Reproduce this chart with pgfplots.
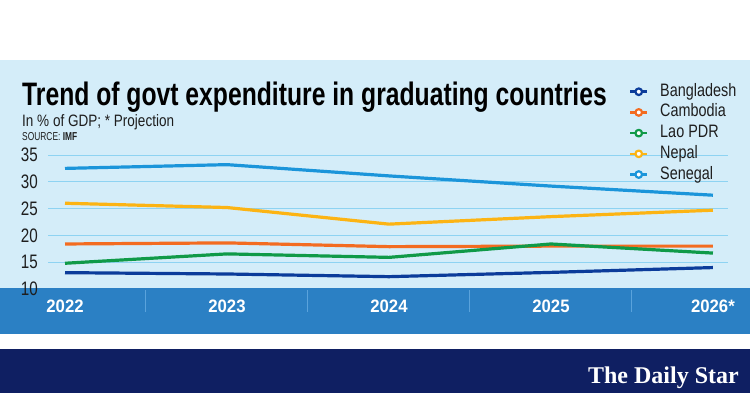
\documentclass[border=0pt]{standalone}
\usepackage{fontspec}
\setmainfont{Liberation Sans}
\newfontfamily\titlefont[FakeStretch=0.76]{Liberation Sans}
\newfontfamily\condfont[FakeStretch=0.82]{Liberation Sans}
\newfontfamily\legfont[FakeStretch=0.8]{Liberation Sans}
\newfontfamily\srcfont[FakeStretch=0.73]{Liberation Sans}
\newfontfamily\yfont[FakeStretch=0.78]{Liberation Sans}
\newfontfamily\xfont[FakeStretch=0.93]{Liberation Sans}
\newfontfamily\logofont{Liberation Serif}
\usepackage{pgfplots}
\pgfplotsset{compat=1.18}
\definecolor{cBan}{HTML}{0B3C9A}
\definecolor{cCam}{HTML}{F36C21}
\definecolor{cLao}{HTML}{0F9A48}
\definecolor{cNep}{HTML}{FCB414}
\definecolor{cSen}{HTML}{1B95DA}
\definecolor{panel}{HTML}{D4EDF9}
\definecolor{gridc}{HTML}{8ED3F2}
\definecolor{band}{HTML}{2B80C4}
\definecolor{sepc}{HTML}{5AA3DC}
\definecolor{navy}{HTML}{0F1F62}
\definecolor{textdark}{HTML}{1E1E1E}
\begin{document}
\begin{tikzpicture}
\begin{scope}[x=1bp,y=1bp]
\fill[white] (0,0) rectangle (750,393);
\fill[panel] (0,104.5) rectangle (750,333);
\fill[band] (0,59) rectangle (750,104.5);
\fill[navy] (0,0) rectangle (750,44);
\node[anchor=base west, inner sep=0, text=black] at (22,288) {\titlefont\bfseries\fontsize{32.5bp}{36bp}\selectfont Trend of govt expenditure in graduating countries};
\node[anchor=base west, inner sep=0, text=textdark] at (22,266.3) {\condfont\fontsize{16.5bp}{18bp}\selectfont In \% of GDP; * Projection};
\node[anchor=base west, inner sep=0, text=textdark] at (22,253) {\srcfont\fontsize{11.5bp}{13bp}\selectfont SOURCE: \textbf{IMF}};
\node[anchor=base east, inner sep=0, text=white] at (739,10) {\logofont\bfseries\fontsize{24bp}{26bp}\selectfont The Daily Star};
\end{scope}
\begin{axis}[
  at={(48bp,104bp)}, anchor=south west,
  scale only axis, width=680bp, height=134bp,
  xmin=-0.105, xmax=4.093, ymin=10, ymax=35,
  axis x line*=bottom, axis y line*=left,
  axis line style={draw=none},
  major tick length=0pt,
  clip=false,
  ytick={15,20,25,30,35},
  extra y ticks={10},
  extra y tick style={grid=none},
  ymajorgrids,
  grid style={color=gridc, line width=0.9bp},
  xtick={0,1,2,3,4},
  xticklabels={2022,2023,2024,2025,2026*},
  xticklabel style={anchor=center, yshift=-17.5bp, text=white, font=\xfont\bfseries\fontsize{18bp}{20bp}\selectfont},
  yticklabel style={anchor=east, inner sep=0pt, xshift=-10bp, text=textdark, font=\yfont\fontsize{19.5bp}{21bp}\selectfont},
  /pgf/number format/assume math mode=true,
  every axis plot/.append style={line width=3.2bp, line join=round, no markers},
  legend image code/.code={
    \path[draw=none] (-2bp,0bp) -- (30bp,0bp);
    \draw[#1, line width=2.5bp] (0bp,0bp) -- (17bp,0bp);
    \draw[#1, line width=2.2bp, fill=white] (8.5bp,0bp) circle (3.3bp);
  },
  legend style={at={(axis description cs:0.853,1.537)}, anchor=north west,
    draw=none, fill=none, inner sep=0pt, column sep=0pt, row sep=3.7bp,
    font=\legfont\fontsize{18bp}{20bp}\selectfont, text=textdark,
    nodes={inner sep=0pt, text height=13bp, text depth=4bp}},
  legend cell align=left,
]
\pgfplotsinvokeforeach{0.5,1.5,2.5,3.5}{
  \draw[sepc, line width=1bp] (axis cs:#1,10) ++(0bp,-1.5bp) -- ++(0bp,-22bp);
}
\addplot[cBan] coordinates {(0,13.05) (1,12.8) (2,12.3) (3,13.1) (4,14.0)};
\addlegendentry{Bangladesh}
\addplot[cCam] coordinates {(0,18.4) (1,18.6) (2,17.9) (3,18.0) (4,18.0)};
\addlegendentry{Cambodia}
\addplot[cLao] coordinates {(0,14.8) (1,16.55) (2,15.9) (3,18.4) (4,16.7)};
\addlegendentry{Lao PDR}
\addplot[cNep] coordinates {(0,26.0) (1,25.2) (2,22.1) (3,23.5) (4,24.7)};
\addlegendentry{Nepal}
\addplot[cSen] coordinates {(0,32.5) (1,33.2) (2,31.1) (3,29.2) (4,27.5)};
\addlegendentry{Senegal}
\end{axis}
\pgfresetboundingbox
\useasboundingbox (0bp,0bp) rectangle (750bp,393bp);
\end{tikzpicture}
\end{document}
